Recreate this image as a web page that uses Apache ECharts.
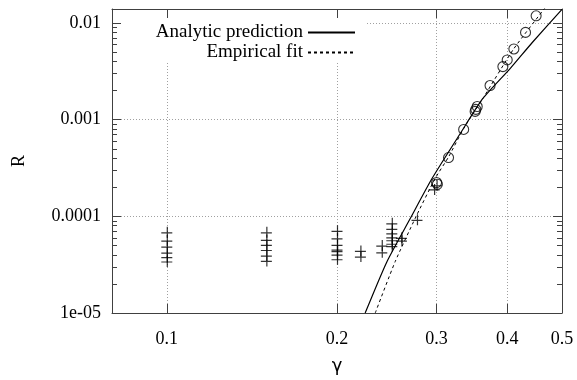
<!DOCTYPE html>
<html>
<head>
<meta charset="utf-8">
<script src="https://cdn.jsdelivr.net/npm/echarts@6/dist/echarts.min.js"></script>
<style>
  html, body { margin: 0; padding: 0; background: #fff; }
  #chart { width: 577px; height: 380px; }
</style>
</head>
<body>
<div id="chart"></div>
<script>
  // tick positions and labels
  const xTicks = [0.1, 0.2, 0.3, 0.4, 0.5];
  const xTickLabels = ['0.1', '0.2', '0.3', '0.4', '0.5'];
  const yTicks = [1e-5, 1e-4, 1e-3, 1e-2];
  const yTickLabels = ['1e-05', '0.0001', '0.001', '0.01'];
  const yMinorTicks = [
    2e-5, 3e-5, 4e-5, 5e-5, 6e-5, 7e-5, 8e-5, 9e-5,
    2e-4, 3e-4, 4e-4, 5e-4, 6e-4, 7e-4, 8e-4, 9e-4,
    2e-3, 3e-3, 4e-3, 5e-3, 6e-3, 7e-3, 8e-3, 9e-3
  ];

  // simulation points drawn with "+"
  const plusPoints = [
    [0.1, 6.84e-5], [0.1, 5.62e-5], [0.1, 4.87e-5], [0.1, 4.22e-5], [0.1, 3.78e-5], [0.1, 3.41e-5],
    [0.15, 6.84e-5], [0.15, 5.70e-5], [0.15, 5.06e-5], [0.15, 4.49e-5], [0.15, 3.93e-5], [0.15, 3.46e-5],
    [0.2, 7.09e-5], [0.2, 5.93e-5], [0.2, 5.08e-5], [0.2, 4.52e-5], [0.2, 4.36e-5], [0.2, 4.01e-5], [0.2, 3.60e-5],
    [0.22, 4.39e-5], [0.22, 3.84e-5],
    [0.24, 4.99e-5], [0.24, 4.25e-5],
    [0.25, 8.47e-5], [0.25, 7.43e-5], [0.25, 6.68e-5], [0.25, 6.07e-5], [0.25, 5.66e-5], [0.25, 5.21e-5], [0.25, 4.91e-5],
    [0.26, 6.0e-5], [0.26, 5.6e-5],
    [0.277, 9.2e-5],
    [0.297, 1.9e-4], [0.3, 2.1e-4]
  ];

  // simulation points drawn with circles
  const circlePoints = [
    [0.300, 2.24e-4], [0.301, 2.15e-4], [0.315, 4.06e-4], [0.335, 7.94e-4],
    [0.351, 1.22e-3], [0.352, 1.28e-3], [0.354, 1.37e-3], [0.373, 2.26e-3],
    [0.393, 3.55e-3], [0.400, 4.16e-3], [0.411, 5.40e-3], [0.431, 8.02e-3],
    [0.450, 1.19e-2]
  ];

  const analyticCurve = [
    [0.2243, 1.0e-5], [0.2451, 3.4e-5], [0.2695, 9.5e-5], [0.2943, 2.45e-4],
    [0.3304, 7.2e-4], [0.3620, 1.65e-3], [0.4051, 3.4e-3], [0.443, 6.3e-3],
    [0.5, 1.39e-2]
  ];

  const empiricalFit = [
    [0.2337, 1.0e-5], [0.2535, 3.41e-5], [0.2750, 9.54e-5], [0.2983, 2.47e-4],
    [0.3150, 4.12e-4], [0.3348, 8.07e-4], [0.3634, 1.71e-3], [0.4106, 5.40e-3],
    [0.4672, 1.45e-2]
  ];

  const serif = '"Liberation Serif", "DejaVu Serif", serif';
  const borderColor = '#404040';

  const nearestLabel = (ticks, labels) => v => {
    let best = 0;
    ticks.forEach((t, i) => {
      if (Math.abs(Math.log(t / v)) < Math.abs(Math.log(ticks[best] / v))) best = i;
    });
    return labels[best];
  };

  const chart = echarts.init(document.getElementById('chart'), null, { renderer: 'canvas' });

  const xBase = { type: 'log', min: 0.08, max: 0.5, logBase: 10 };
  const yBase = { type: 'log', min: 1e-5, max: 0.014, logBase: 10 };
  const hidden = { axisLine: { show: false }, axisLabel: { show: false }, splitLine: { show: false } };

  const option = {
    animation: false,
    backgroundColor: '#fff',
    grid: { left: 112, right: 15, top: 9, bottom: 65, containLabel: false },
    xAxis: [
      {
        ...xBase, position: 'bottom', z: 3,
        axisLine: { show: true, lineStyle: { color: borderColor, width: 1 } },
        axisTick: { show: true, inside: true, length: 9, customValues: xTicks, lineStyle: { color: borderColor } },
        axisLabel: {
          show: true, customValues: xTicks, margin: 17, color: '#000',
          fontFamily: serif, fontSize: 18, formatter: nearestLabel(xTicks, xTickLabels)
        },
        splitLine: { show: false },
        name: 'γ', nameLocation: 'middle', nameGap: 44,
        nameTextStyle: { fontFamily: '"DejaVu Sans", sans-serif', fontSize: 18, color: '#000' }
      },
      {
        ...xBase, position: 'top', z: 3,
        axisLine: { show: true, lineStyle: { color: borderColor, width: 1 } },
        axisTick: { show: true, inside: true, length: 9, customValues: xTicks, lineStyle: { color: borderColor } },
        axisLabel: { show: false }, splitLine: { show: false }
      },
      {
        ...xBase, position: 'bottom', z: 0, ...hidden,
        axisTick: { show: false, customValues: xTicks },
        splitLine: { show: true, lineStyle: { color: '#a0a0a0', width: 1, type: [1, 2] } }
      }
    ],
    yAxis: [
      {
        ...yBase, position: 'left', z: 3,
        axisLine: { show: true, lineStyle: { color: borderColor, width: 1 } },
        axisTick: { show: true, inside: true, length: 9, customValues: yTicks, lineStyle: { color: borderColor } },
        axisLabel: {
          show: true, customValues: yTicks, margin: 11, color: '#000',
          fontFamily: serif, fontSize: 18, formatter: nearestLabel(yTicks, yTickLabels)
        },
        splitLine: { show: false },
        name: 'R', nameLocation: 'middle', nameGap: 84,
        nameTextStyle: { fontFamily: serif, fontSize: 18, color: '#000' }
      },
      {
        ...yBase, position: 'left', z: 3, ...hidden,
        axisTick: { show: true, inside: true, length: 5, customValues: yMinorTicks, lineStyle: { color: borderColor } }
      },
      {
        ...yBase, position: 'right', z: 3,
        axisLine: { show: true, lineStyle: { color: borderColor, width: 1 } },
        axisTick: { show: true, inside: true, length: 9, customValues: yTicks, lineStyle: { color: borderColor } },
        axisLabel: { show: false }, splitLine: { show: false }
      },
      {
        ...yBase, position: 'right', z: 3, ...hidden,
        axisTick: { show: true, inside: true, length: 5, customValues: yMinorTicks, lineStyle: { color: borderColor } }
      },
      {
        ...yBase, position: 'left', z: 0, ...hidden,
        axisTick: { show: false, customValues: yTicks },
        splitLine: { show: true, lineStyle: { color: '#a0a0a0', width: 1, type: [1, 2] } }
      }
    ],
    // opaque key box over the grid lines
    graphic: [
      {
        type: 'rect', z: 1, silent: true,
        shape: { x: 113, y: 10, width: 252, height: 52 },
        style: { fill: '#fff' }
      }
    ],
    legend: [
      {
        data: ['Analytic prediction'], right: 221, top: 23, padding: 0,
        align: 'right', itemWidth: 47, itemHeight: 14, selectedMode: false,
        itemStyle: { opacity: 0 },
        textStyle: { fontFamily: serif, fontSize: 19, color: '#000' }
      },
      {
        data: ['Empirical fit'], right: 221, top: 43, padding: 0,
        align: 'right', itemWidth: 47, itemHeight: 14, selectedMode: false,
        itemStyle: { opacity: 0 },
        textStyle: { fontFamily: serif, fontSize: 19, color: '#000' }
      }
    ],
    series: [
      {
        name: 'Analytic prediction', type: 'line', data: analyticCurve,
        xAxisIndex: 0, yAxisIndex: 0, symbol: 'none', clip: true, smooth: 0.2,
        lineStyle: { color: '#000', width: 1.2 }
      },
      {
        name: 'Empirical fit', type: 'line', data: empiricalFit,
        xAxisIndex: 0, yAxisIndex: 0, symbol: 'none', clip: true, smooth: 0.2,
        lineStyle: { color: '#000', width: 1, type: [3, 3] }
      },
      {
        name: 'plus', type: 'scatter', data: plusPoints,
        xAxisIndex: 0, yAxisIndex: 0,
        symbol: 'path://M0,5.4H11V6.6H0ZM5.4,0H6.6V11H5.4Z', symbolSize: 11,
        itemStyle: { color: '#000' }
      },
      {
        name: 'circles', type: 'scatter', data: circlePoints,
        xAxisIndex: 0, yAxisIndex: 0,
        symbol: 'circle', symbolSize: 10,
        itemStyle: { color: 'transparent', borderColor: '#000', borderWidth: 1.1 }
      }
    ]
  };

  chart.setOption(option);
</script>
</body>
</html>
